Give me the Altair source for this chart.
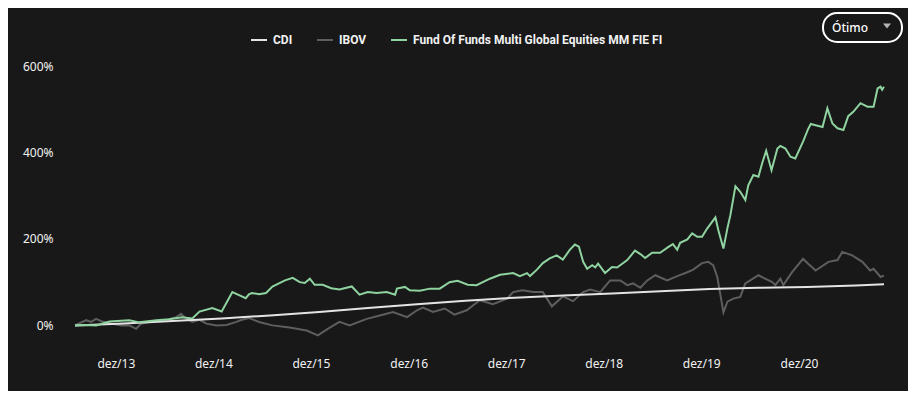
import altair as alt
import pandas as pd

SERIES = ["CDI", "IBOV", "Fund Of Funds Multi Global Equities MM FIE FI"]
COLORS = ["#e4e4e4", "#5e5e5e", "#8fd3a0"]

cdi_dates = ["2013-07-01", "2014-01-01", "2014-07-01", "2015-01-01", "2015-07-01",
             "2016-01-01", "2016-07-01", "2017-01-01", "2017-07-01", "2018-01-01",
             "2018-07-01", "2019-01-01", "2019-07-01", "2020-01-01", "2020-07-01",
             "2021-01-01", "2021-07-01", "2021-10-15"]
cdi_values = [0, 4.5, 10, 16, 23, 31, 40, 49, 57, 64, 69, 74, 79, 84, 87, 89, 92, 95]

ibov_dates = ["2013-07-01", "2013-08-12", "2013-08-30", "2013-09-18", "2013-10-10",
              "2013-11-17", "2013-12-24", "2014-01-20", "2014-02-15", "2014-03-05",
              "2014-04-04", "2014-06-05", "2014-07-15", "2014-08-02", "2014-08-20",
              "2014-09-13", "2014-10-10", "2014-11-05", "2014-12-12", "2015-01-19",
              "2015-02-25", "2015-03-18", "2015-04-13", "2015-05-21", "2015-07-10",
              "2015-09-12", "2015-11-15", "2015-12-27", "2016-02-02", "2016-03-17",
              "2016-04-24", "2016-06-27", "2016-08-15", "2016-10-03", "2016-11-25",
              "2017-01-01", "2017-01-23", "2017-03-02", "2017-04-15", "2017-05-21",
              "2017-07-06", "2017-08-24", "2017-10-12", "2017-12-04", "2017-12-27",
              "2018-01-30", "2018-03-12", "2018-04-17", "2018-05-21", "2018-07-01",
              "2018-08-08", "2018-09-15", "2018-10-11", "2018-11-18", "2018-11-29",
              "2018-12-25", "2019-02-01", "2019-02-27", "2019-03-21", "2019-04-17",
              "2019-05-13", "2019-06-12", "2019-07-26", "2019-09-02", "2019-10-10",
              "2019-11-01", "2019-12-04", "2019-12-27", "2020-01-15", "2020-01-30",
              "2020-02-10", "2020-02-22", "2020-03-08", "2020-03-30", "2020-04-25",
              "2020-05-14", "2020-07-02", "2020-08-23", "2020-09-03", "2020-09-22",
              "2020-10-03", "2020-11-05", "2020-12-16", "2021-01-03", "2021-02-01",
              "2021-03-21", "2021-04-24", "2021-05-12", "2021-06-18", "2021-07-26",
              "2021-08-24", "2021-09-06", "2021-10-02", "2021-10-15"]
ibov_values = [0, 12, 8, 15, 9,
               4, 0, 0, -8, 4,
               8, 12, 19, 27, 16,
               8, 13, 4, 0, 1,
               8, 13, 17, 8, 0,
               -5, -12, -23, -8, 8,
               0, 15, 23, 31, 19,
               35, 41, 31, 39, 25,
               35, 58, 49, 62, 77,
               81, 77, 77, 44, 67,
               56, 77, 83, 77, 85,
               104, 104, 93, 97, 87,
               104, 116, 104, 114, 123,
               129, 144, 147, 139, 112,
               73, 30, 55, 62, 66,
               97, 116, 100, 93, 108,
               93, 123, 154, 143, 127,
               147, 151, 170, 162, 147,
               127, 131, 112, 115]

fund_dates = ["2013-07-01", "2013-08-10", "2013-09-18", "2013-11-07", "2014-01-20",
              "2014-02-27", "2014-05-02", "2014-06-18", "2014-08-06", "2014-09-13",
              "2014-10-10", "2014-11-27", "2015-01-01", "2015-02-10", "2015-03-07",
              "2015-04-01", "2015-04-13", "2015-04-24", "2015-05-21", "2015-06-16",
              "2015-07-10", "2015-08-26", "2015-09-24", "2015-10-20", "2015-11-08",
              "2015-11-27", "2015-12-15", "2016-01-14", "2016-02-15", "2016-03-17",
              "2016-05-02", "2016-05-31", "2016-07-01", "2016-08-03", "2016-09-10",
              "2016-10-11", "2016-10-18", "2016-11-17", "2016-12-05", "2017-01-12",
              "2017-02-18", "2017-03-27", "2017-05-03", "2017-06-02", "2017-07-10",
              "2017-08-12", "2017-10-01", "2017-11-08", "2017-12-27", "2018-01-21",
              "2018-02-17", "2018-02-28", "2018-03-26", "2018-04-17", "2018-05-13",
              "2018-06-08", "2018-07-01", "2018-07-26", "2018-08-15", "2018-08-30",
              "2018-09-15", "2018-09-30", "2018-10-19", "2018-10-30", "2018-11-10",
              "2018-12-06", "2019-01-01", "2019-01-20", "2019-02-27", "2019-03-28",
              "2019-04-17", "2019-05-05", "2019-05-31", "2019-06-30", "2019-07-30",
              "2019-08-17", "2019-09-02", "2019-09-13", "2019-10-10", "2019-10-28",
              "2019-11-16", "2019-12-04", "2019-12-23", "2020-01-23", "2020-02-03",
              "2020-02-22", "2020-03-08", "2020-03-19", "2020-04-07", "2020-04-25",
              "2020-05-14", "2020-05-25", "2020-06-13", "2020-07-02", "2020-07-16",
              "2020-07-31", "2020-08-20", "2020-09-11", "2020-09-22", "2020-10-11",
              "2020-10-30", "2020-11-17", "2020-12-16", "2021-01-03", "2021-01-14",
              "2021-02-01", "2021-02-27", "2021-03-17", "2021-04-05", "2021-04-24",
              "2021-05-16", "2021-06-03", "2021-06-22", "2021-07-19", "2021-08-14",
              "2021-09-06", "2021-09-21", "2021-10-02", "2021-10-08", "2021-10-15"]
fund_values = [0, 1, 0, 9, 12,
               7, 12, 14, 19, 16,
               32, 40, 32, 77, 70,
               63, 72, 75, 72, 75,
               90, 104, 110, 100, 98,
               108, 94, 94, 86, 83,
               90, 71, 77, 75, 77,
               71, 85, 89, 81, 80,
               85, 85, 100, 103, 94,
               93, 108, 117, 121, 114,
               121, 114, 129, 144, 155,
               162, 152, 174, 187, 182,
               147, 131, 139, 134, 143,
               121, 135, 134, 151, 173,
               165, 156, 168, 168, 181,
               188, 175, 191, 199, 213,
               205, 205, 224, 250, 220,
               178, 225, 255, 322, 309,
               290, 324, 348, 344, 375,
               404, 359, 409, 415, 409,
               390, 386, 425, 453, 466,
               463, 459, 502, 467, 456,
               452, 484, 494, 514, 506,
               506, 548, 552, 545, 552]

rows = []
for d, v in zip(ibov_dates, ibov_values):
    rows.append({"date": d, "value": v, "serie": SERIES[1]})
for d, v in zip(cdi_dates, cdi_values):
    rows.append({"date": d, "value": v, "serie": SERIES[0]})
for d, v in zip(fund_dates, fund_values):
    rows.append({"date": d, "value": v, "serie": SERIES[2]})
df = pd.DataFrame(rows)

tick_years = [2013, 2014, 2015, 2016, 2017, 2018, 2019, 2020]
y_ticks = [0, 200, 400, 600]

BG = "#181818"
TXT = "#f2f2f2"
AXFONT = "Noto Sans"
LGFONT = "Roboto"

lines = alt.Chart(df).mark_line(strokeWidth=2).encode(
    x=alt.X("date:T",
            scale=alt.Scale(domain=[alt.DateTime(year=2013, month=7, date=1),
                                    alt.DateTime(year=2021, month=10, date=15)], nice=False),
            axis=alt.Axis(values=[alt.DateTime(year=y, month=12, date=1) for y in tick_years],
                          labelExpr="'dez/' + timeFormat(datum.value, '%y')",
                          title=None, grid=False, domain=False, ticks=False, tickSize=0,
                          labelPadding=11, labelColor=TXT, labelFont=AXFONT, labelFontSize=12)),
    y=alt.Y("value:Q",
            scale=alt.Scale(domain=[-50, 600], nice=False, zero=False),
            axis=alt.Axis(values=y_ticks, labelExpr="datum.value + '%'",
                          title=None, grid=False, domain=False, ticks=False, tickSize=0,
                          labelPadding=22, labelColor=TXT, labelFont=AXFONT, labelFontSize=12)),
    color=alt.Color("serie:N",
                    scale=alt.Scale(domain=SERIES, range=COLORS),
                    legend=alt.Legend(orient="none", legendX=175, legendY=-35,
                                      direction="horizontal", title=None, labelLimit=0,
                                      symbolType="stroke", symbolSize=256, symbolStrokeWidth=2,
                                      labelColor=TXT, labelFont=LGFONT, labelFontSize=12,
                                      labelFontWeight="bold", columnPadding=20, labelOffset=5)),
)

ui = pd.DataFrame({"label": ["Ótimo"]})
button = alt.Chart(ui).mark_rect(cornerRadius=14, fill=BG, stroke="#ffffff", strokeWidth=2).encode(
    x=alt.value(748), x2=alt.value(827), y=alt.value(-53), y2=alt.value(-24))
button_text = alt.Chart(ui).mark_text(color="#ffffff", fontSize=12, fontWeight=500, font=AXFONT,
                                      align="center", baseline="middle").encode(
    x=alt.value(775), y=alt.value(-38), text="label:N")
arrow = alt.Chart(ui).mark_point(shape="M-1,-0.6L1,-0.6L0,0.6Z", filled=True, size=64,
                                 color="#b4b4b4", opacity=1).encode(
    x=alt.value(812), y=alt.value(-40))

chart = alt.layer(lines, button, button_text, arrow).properties(
    width=809, height=281,
    autosize=alt.AutoSizeParams(type="none"),
    padding={"left": 67, "top": 58, "right": 24, "bottom": 44},
    background=BG,
).configure_view(stroke=None)

chart.save("out.html", embed_options={"renderer": "svg", "actions": False})
